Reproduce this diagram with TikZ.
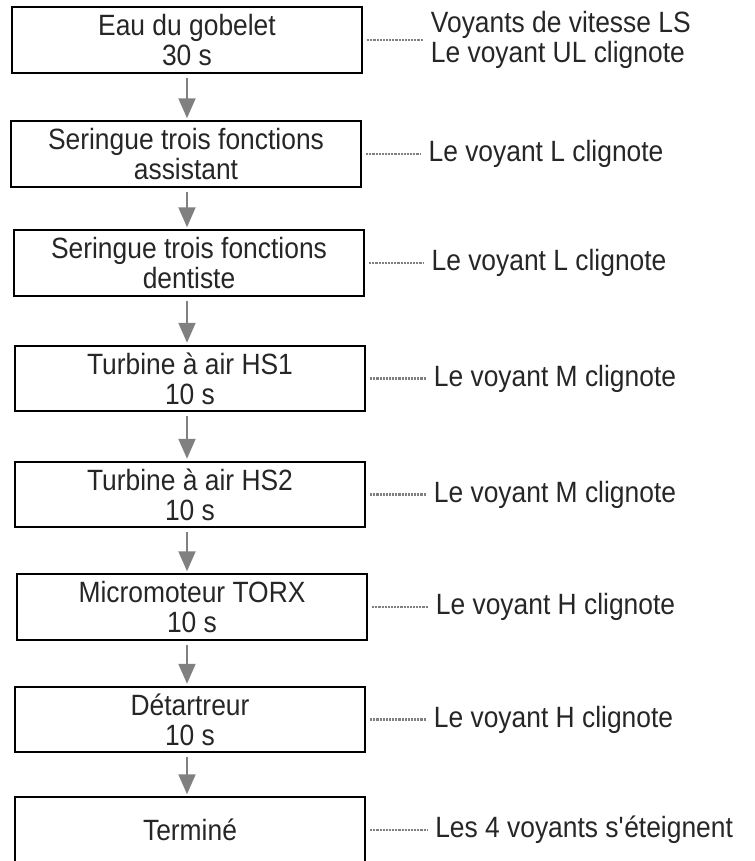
\documentclass[tikz,border=0pt]{standalone}
\usepackage{fontspec}
\setmainfont[FakeStretch=0.9]{Liberation Sans}
\usepackage{tikz}
\usetikzlibrary{arrows.meta,positioning}

\begin{document}
\begin{tikzpicture}[x=0.75pt, y=-0.75pt,
  stepbox/.style={draw=black, line width=1.5pt, minimum width=262pt, minimum height=49pt, align=center, text=black!85, font=\fontsize{22}{22.5}\selectfont, inner sep=0pt},
  note/.style={align=left, text=black!85, font=\fontsize{22}{22.5}\selectfont, inner sep=0pt},
  arr/.style={-{Triangle[length=15pt, width=12.5pt]}, line width=2.2pt, draw=black!50},
  dots/.style={line width=2.2pt, draw=black!50, dash pattern=on 0.5pt off 0.6pt},
]
\useasboundingbox (0,0) rectangle (754,861);
\node[stepbox] (b1) at (187,40) {Eau du gobelet\\30 s};
\node[stepbox] (b2) at (186,154) {Seringue trois fonctions\\assistant};
\node[stepbox] (b3) at (189,263) {Seringue trois fonctions\\dentiste};
\node[stepbox] (b4) at (190,378.5) {Turbine à air HS1\\10 s};
\node[stepbox] (b5) at (190,494.5) {Turbine à air HS2\\10 s};
\node[stepbox] (b6) at (192,607) {Micromoteur TORX\\10 s};
\node[stepbox] (b7) at (190,719.5) {Détartreur\\10 s};
\node[stepbox] (b8) at (190,830) {Terminé};

\node[note, right=51pt of b1] (n1) {Voyants de vitesse LS\\Le voyant UL clignote};
\node[note, right=50pt of b2] (n2) {Le voyant L clignote};
\node[note, right=50pt of b3] (n3) {Le voyant L clignote};
\node[note, right=51pt of b4] (n4) {Le voyant M clignote};
\node[note, right=51pt of b5] (n5) {Le voyant M clignote};
\node[note, right=51pt of b6] (n6) {Le voyant H clignote};
\node[note, right=51pt of b7] (n7) {Le voyant H clignote};
\node[note, right=52pt of b8] (n8) {Les 4 voyants s\textquotesingle éteignent};

\foreach \a/\b in {b1/b2,b2/b3,b3/b4,b4/b5,b5/b6,b6/b7,b7/b8}
  \draw[arr] ([yshift=-3pt]\a.south -| b1.south) -- ([yshift=1.5pt]\b.north -| b1.south);

\foreach \i in {1,...,8}
  \draw[dots] ([xshift=3pt]b\i.east) -- ([xshift=-6pt]n\i.west);
\end{tikzpicture}
\end{document}
